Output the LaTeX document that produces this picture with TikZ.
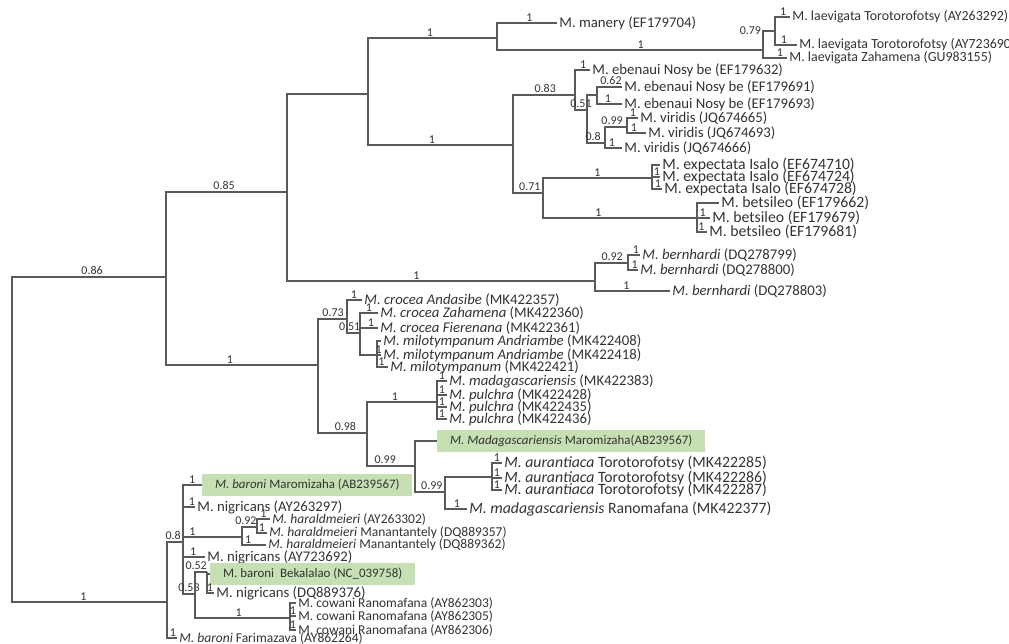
\documentclass[tikz,border=0pt]{standalone}
\usepackage{fontspec}
\setmainfont{Carlito}
\usepackage{tikz}

\definecolor{branch}{HTML}{5A5A5A}
\definecolor{txt}{HTML}{333333}
\definecolor{hlgreen}{HTML}{C6E0B4}

\begin{document}
\begin{tikzpicture}[x=0.025cm, y=-0.025cm, every node/.style={text=txt}]
% styles
\tikzstyle{branchline}=[draw=branch, line width=0.8pt]
\tikzstyle{leaf}=[anchor=west, inner sep=1.5pt, font=\fontsize{10.5}{12}\selectfont]
\tikzstyle{leafsm}=[leaf, font=\fontsize{9.6}{11}\selectfont]
\tikzstyle{leafmd}=[leaf, font=\fontsize{9.9}{11}\selectfont]
\tikzstyle{leaflg}=[leaf, font=\fontsize{11.2}{13}\selectfont]
\tikzstyle{hl}=[leaf, font=\fontsize{9.2}{11}\selectfont, fill=hlgreen, inner xsep=0.32cm, minimum height=0.56cm]
\tikzstyle{bs}=[above, inner sep=1pt, font=\fontsize{8.5}{9}\selectfont]

\useasboundingbox (0,0) rectangle (1009,644);

% internal nodes
\coordinate (root) at (12,440);
\coordinate (n1) at (166,277);
\coordinate (n2) at (287,192);
\coordinate (n3) at (368,94);
\coordinate (n4) at (497,38);
\coordinate (lA) at (763,50);
\coordinate (lB) at (775,31);
\coordinate (nC) at (513,145);
\coordinate (nD) at (575,95);
\coordinate (nG) at (587,110);
\coordinate (nF) at (597,95);
\coordinate (nH) at (605,143);
\coordinate (nI) at (627,127);
\coordinate (nJ) at (543,193);
\coordinate (nK) at (652,178);
\coordinate (nL) at (697,218);
\coordinate (nM) at (595,281);
\coordinate (nN) at (628,263);
\coordinate (nP) at (318,365);
\coordinate (nQ) at (347,319);
\coordinate (nR) at (360,333);
\coordinate (nT) at (377,355);
\coordinate (nU) at (367,433);
\coordinate (nV) at (437,402);
\coordinate (nW) at (415,466);
\coordinate (nX) at (445,492);
\coordinate (nY) at (492,477);
\coordinate (nZ) at (167,602);
\coordinate (nAA) at (183,542);
\coordinate (nAB) at (242,537);
\coordinate (nAC) at (257,527);
\coordinate (nAD) at (195,594);
\coordinate (nAE) at (207,572);
\coordinate (nAF) at (290,618);

% upper clade leaves
\node[leaf] (manery) at (557,23) {M. manery (EF179704)};
\node[leafmd] (lae1) at (790,17) {M. laevigata Torotorofotsy (AY263292)};
\node[leafmd] (lae2) at (797,45) {M. laevigata Torotorofotsy (AY723690};
\node[leafmd] (lae3) at (787,58) {M. laevigata Zahamena (GU983155)};
\node[leaf] (ebe1) at (590,70) {M. ebenaui Nosy be (EF179632)};
\node[leaf] (ebe2) at (622,87) {M. ebenaui Nosy be (EF179691)};
\node[leaf] (ebe3) at (622,104) {M. ebenaui Nosy be (EF179693)};
\node[leaf] (vir1) at (638,118) {M. viridis (JQ674665)};
\node[leaf] (vir2) at (646,133) {M. viridis (JQ674693)};
\node[leaf] (vir3) at (622,148) {M. viridis (JQ674666)};
\foreach \n/\y/\acc/\xe in {1/165/EF674710/660,2/177/EF674724/660,3/189/EF674728/662}
  \node[leaflg] (exp\n) at (\xe,\y) {M. expectata Isalo (\acc)};
\foreach \n/\y/\acc/\xe in {1/203/EF179662/719,2/218/EF179679/710,3/232/EF179681/707}
  \node[leaflg] (bet\n) at (\xe,\y) {M. betsileo (\acc)};
\node[leaf] (ber1) at (640,255) {\textit{M. bernhardi} (DQ278799)};
\node[leaf] (ber2) at (638,270) {\textit{M. bernhardi} (DQ278800)};
\node[leaf] (ber3) at (670,291) {\textit{M. bernhardi} (DQ278803)};

% middle clade leaves
\node[leaf] (cro1) at (362,300) {\textit{M. crocea Andasibe} (MK422357)};
\node[leaf] (cro2) at (378,313) {\textit{M. crocea Zahamena} (MK422360)};
\node[leaf] (cro3) at (378,328) {\textit{M. crocea Fierenana} (MK422361)};
\node[leaf] (milo1) at (381,341) {\textit{M. milotympanum Andriambe} (MK422408)};
\node[leaf] (milo2) at (381,355) {\textit{M. milotympanum Andriambe} (MK422418)};
\node[leaf] (milo3) at (388,367) {\textit{M. milotympanum} (MK422421)};
\node[leaf] (mad1) at (447,381) {\textit{M. madagascariensis} (MK422383)};
\foreach \n/\y/\acc in {1/395/MK422428,2/407/MK422435,3/419/MK422436}
  \node[leaf] (pul\n) at (447,\y) {\textit{M. pulchra} (\acc)};
\node[hl] (mmad) at (437,441) {\textit{M. Madagascariensis} Maromizaha(AB239567)};
\foreach \n/\y/\acc in {1/463/MK422285,2/478/MK422286,3/490/MK422287}
  \node[leaflg] (aur\n) at (502,\y) {\textit{M. aurantiaca} Torotorofotsy (\acc)};
\node[leaflg] (mad2) at (467,509) {\textit{M. madagascariensis} Ranomafana (MK422377)};

% lower clade leaves
\node[hl] (bmar) at (202,485) {\textit{M. baroni} Maromizaha (AB239567)};
\node[leaf] (nig1) at (195,507) {M. nigricans (AY263297)};
\node[leafsm] (har1) at (270,519) {\textit{M. haraldmeieri} (AY263302)};
\node[leafsm] (har2) at (267,533) {\textit{M. haraldmeieri} Manantantely (DQ889357)};
\node[leafsm] (har3) at (266,545) {\textit{M. haraldmeieri} Manantantely (DQ889362)};
\node[leaf] (nig2) at (205,557) {M. nigricans (AY723692)};
\node[hl] (bek) at (210,574) {M. baroni\ \ Bekalalao (NC\_039758)};
\node[leaf] (nig3) at (214,593) {M. nigricans (DQ889376)};
\foreach \n/\y/\acc in {1/603/AY862303,2/616/AY862305,3/630/AY862306}
  \node[leafsm] (cow\n) at (296,\y) {M. cowani Ranomafana (\acc)};
\node[leafsm] (far) at (177,638) {\textit{M. baroni} Farimazava (AY862264)};

% backbone
\draw[branchline] (root) |- node[bs,pos=.76] {0.86} (n1);
\draw[branchline] (root) |- node[bs,pos=.73] {1} (nZ);
\draw[branchline] (n1) |- node[bs,pos=.74] {0.85} (n2);
\draw[branchline] (n1) |- node[bs,pos=.71] {1} (nP);
\draw[branchline] (n2) |- (n3);
\draw[branchline] (n2) |- node[bs,pos=.71] {1} (nM);
\draw[branchline] (n3) |- node[bs,pos=.74] {1} (n4);
\draw[branchline] (n3) |- node[bs,pos=.72] {1} (nC);

% manery and laevigata
\draw[branchline] (n4) |- node[bs,pos=.77] {1} (manery);
\draw[branchline] (n4) |- node[bs,pos=.77] {1} (lA);
\draw[branchline] (lA) |- node[bs,pos=.5,left] {0.79} (lB);
\draw[branchline] (lA) |- node[bs,pos=.85] {1} (lae3);
\draw[branchline] (lB) |- node[bs,pos=.77] {1} (lae1);
\draw[branchline] (lB) |- node[bs,pos=.7] {1} (lae2);

% ebenaui and viridis
\draw[branchline] (nC) |- node[bs,pos=.76] {0.83} (nD);
\draw[branchline] (nC) |- node[bs,pos=.78] {0.71} (nJ);
\draw[branchline] (nD) |- node[bs,pos=.77] {1} (ebe1);
\draw[branchline] (nD) |- node[bs,pos=.75] {0.51} (nG);
\draw[branchline] (nG) |- (nF);
\draw[branchline] (nF) |- node[bs,pos=.78] {0.62} (ebe2);
\draw[branchline] (nF) |- node[bs,pos=.72] {1} (ebe3);
\draw[branchline] (nG) |- node[bs,pos=.67] {0.8} (nH);
\draw[branchline] (nH) |- node[bs,pos=.66] {0.99} (nI);
\draw[branchline] (nH) |- node[bs,pos=.7] {1} (vir3);
\draw[branchline] (nI) |- node[bs,pos=.77] {1} (vir1);
\draw[branchline] (nI) |- node[bs,pos=.68] {1} (vir2);

% expectata and betsileo
\draw[branchline] (nJ) |- node[bs,pos=.75] {1} (nK);
\draw[branchline] (nJ) |- node[bs,pos=.68] {1} (nL);
\draw[branchline] (nK) |- (exp1);
\foreach \n in {2,3}
  \draw[branchline] (nK) |- node[bs,pos=.8] {1} (exp\n);
\draw[branchline] (nL) |- (bet1);
\foreach \n in {2,3}
  \draw[branchline] (nL) |- node[bs,pos=.72] {1} (bet\n);

% bernhardi
\draw[branchline] (nM) |- node[bs,pos=.76] {0.92} (nN);
\draw[branchline] (nM) |- node[bs,pos=.71] {1} (ber3);
\draw[branchline] (nN) |- node[bs,pos=.83] {1} (ber1);
\draw[branchline] (nN) |- node[bs,pos=.83] {1} (ber2);

% crocea and milotympanum
\draw[branchline] (nP) |- node[bs,pos=.76] {0.73} (nQ);
\draw[branchline] (nP) |- node[bs,pos=.78] {0.98} (nU);
\draw[branchline] (nQ) |- node[bs,pos=.73] {1} (cro1);
\draw[branchline] (nQ) |- node[bs,pos=.6] {0.51} (nR);
\draw[branchline] (nR) |- node[bs,pos=.75] {1} (cro2);
\draw[branchline] (nR) |- node[bs,pos=.8] {1} (cro3);
\draw[branchline] (nR) |- (nT);
\draw[branchline] (nT) |- (milo1);
\foreach \n in {2,3}
  \draw[branchline] (nT) |- node[bs,pos=.7] {1} (milo\n);

% madagascariensis, pulchra and aurantiaca
\draw[branchline] (nU) |- node[bs,pos=.7] {1} (nV);
\draw[branchline] (nU) |- node[bs,pos=.69] {0.99} (nW);
\draw[branchline] (nV) |- node[bs,pos=.75] {1} (mad1);
\foreach \n in {1,2,3}
  \draw[branchline] (nV) |- node[bs,pos=.75] {1} (pul\n);
\draw[branchline] (nW) |- (mmad);
\draw[branchline] (nW) |- node[bs,pos=.78] {0.99} (nX);
\draw[branchline] (nX) |- (nY);
\draw[branchline] (nX) |- node[bs,pos=.77] {1} (mad2);
\foreach \n in {1,2,3}
  \draw[branchline] (nY) |- node[bs,pos=.75] {1} (aur\n);

% baroni, nigricans, haraldmeieri and cowani
\draw[branchline] (nZ) |- node[bs,pos=.69] {0.8} (nAA);
\draw[branchline] (nZ) |- node[bs,pos=.8] {1} (far);
\draw[branchline] (nAA) |- node[bs,pos=.74] {1} (bmar);
\draw[branchline] (nAA) |- node[bs,pos=.87] {1} (nig1);
\draw[branchline] (nAA) |- node[bs,pos=.58] {1} (nAB);
\draw[branchline] (nAA) |- node[bs,pos=.73] {1} (nig2);
\draw[branchline] (nAA) |- node[bs,pos=.75] {0.53} (nAD);
\draw[branchline] (nAB) |- node[bs,pos=.63] {0.92} (nAC);
\draw[branchline] (nAB) |- node[bs,pos=.63] {1} (har3);
\draw[branchline] (nAC) |- node[bs,pos=.75] {1} (har1);
\draw[branchline] (nAC) |- node[bs,pos=.75] {1} (har2);
\draw[branchline] (nAD) |- node[bs,pos=.55] {0.52} (nAE);
\draw[branchline] (nAD) |- node[bs,pos=.73] {1} (nAF);
\draw[branchline] (nAE) |- (bek);
\draw[branchline] (nAE) |- node[bs,pos=.7] {1} (nig3);
\draw[branchline] (nAF) |- (cow1);
\foreach \n in {2,3}
  \draw[branchline] (nAF) |- node[bs,pos=.75] {1} (cow\n);

\end{tikzpicture}
\end{document}
